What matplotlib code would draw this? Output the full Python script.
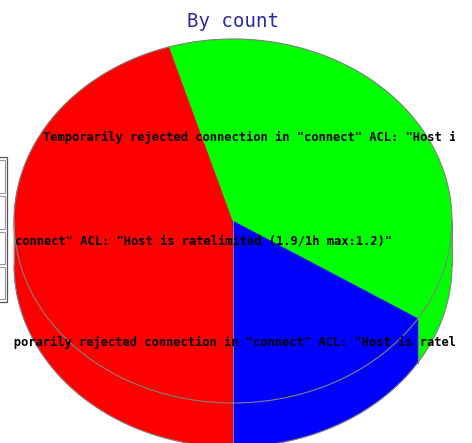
import numpy as np
import matplotlib
matplotlib.use('Agg')
import matplotlib.pyplot as plt
from matplotlib.patches import Polygon, Rectangle

title = 'By count'
labels = [
    'Temporarily rejected connection in "connect" ACL: "Host is ratelimited (1.9/1h max:1.2)"',
    'Temporarily rejected connection in "connect" ACL: "Host is ratelimited (1.4/1h max:1.2)"',
    'Temporarily rejected connection in "connect" ACL: "Host is ratelimited (2.0/1h max:1.2)"',
]
counts = [45.3, 38.7, 16.0]
colors = ['#ff0000', '#00ff00', '#0000ff']

W, H = 472, 443
fig = plt.figure(figsize=(W / 100, H / 100), dpi=100)
ax = fig.add_axes([0, 0, 1, 1])
ax.set_xlim(0, W)
ax.set_ylim(H, 0)
ax.axis('off')

# pie geometry in pixels (angle measured clockwise from the bottom)
cx, cy, a, b, depth = 233, 221, 219, 182, 44
edge = '#808080'


def pt(theta):
    th = np.radians(theta)
    return cx - a * np.sin(th), cy + b * np.cos(th)


def arc(t1, t2, n=200):
    th = np.linspace(t1, t2, n)
    x, y = pt(th)
    return np.column_stack([x, y])


bounds = np.concatenate([[0], np.cumsum(counts) / np.sum(counts) * 360])
front = [(0, 90), (270, 360)]

# side walls
for i, c in enumerate(colors):
    t1, t2 = bounds[i], bounds[i + 1]
    for f1, f2 in front:
        s, e = max(t1, f1), min(t2, f2)
        if e <= s:
            continue
        top = arc(s, e)
        bot = top[::-1] + [0, depth]
        ax.add_patch(Polygon(np.vstack([top, bot]), closed=True, facecolor=c,
                             edgecolor=c, linewidth=0.3))

# top faces
for i, c in enumerate(colors):
    pts = np.vstack([[cx, cy], arc(bounds[i], bounds[i + 1]), [cx, cy]])
    ax.add_patch(Polygon(pts, closed=True, facecolor=c, edgecolor=c, linewidth=0.3))

# outlines
lw = 0.8
ell = arc(0, 360, 400)
ax.plot(ell[:, 0], ell[:, 1], color=edge, lw=lw)
for f1, f2 in front:
    bot = arc(f1, f2) + [0, depth]
    ax.plot(bot[:, 0], bot[:, 1], color=edge, lw=lw)
for t in [90, 270] + [t for t in bounds[1:-1] if np.cos(np.radians(t)) > 0]:
    x, y = pt(t)
    ax.plot([x, x], [y, y + depth], color=edge, lw=lw)
ax.plot([cx, cx], [cy, cy + b + depth], color=edge, lw=lw)

# slice labels, clipped to the pie box
clip = Rectangle((cx - a, 0), 2 * a + 3, H, transform=ax.transData)
mids = (bounds[:-1] + bounds[1:]) / 2
for lab, m in zip(labels, mids):
    th = np.radians(m)
    lx = cx - 0.74 * a * np.sin(th)
    ly = cy + 0.76 * b * np.cos(th)
    t = ax.text(lx, ly + 4, lab, ha='center', va='baseline', family='DejaVu Sans Mono',
                fontweight='bold', fontsize=8.7, color='black', clip_on=True)
    t.set_clip_path(clip)

ax.text(cx, 27, title, ha='center', va='baseline', family='DejaVu Sans Mono',
        fontsize=13.7, color='#2b2b9b')

# legend frame peeking in from the left
ax.add_patch(Rectangle((-20, 157), 27, 145, facecolor='white', edgecolor='#555555', lw=0.9))
for y0, y1 in [(160, 193), (196, 229), (232, 264), (267, 299)]:
    ax.add_patch(Rectangle((-20, y0), 25, y1 - y0, facecolor='white', edgecolor='#999999', lw=0.8))

fig.savefig('out.png', dpi=100)
